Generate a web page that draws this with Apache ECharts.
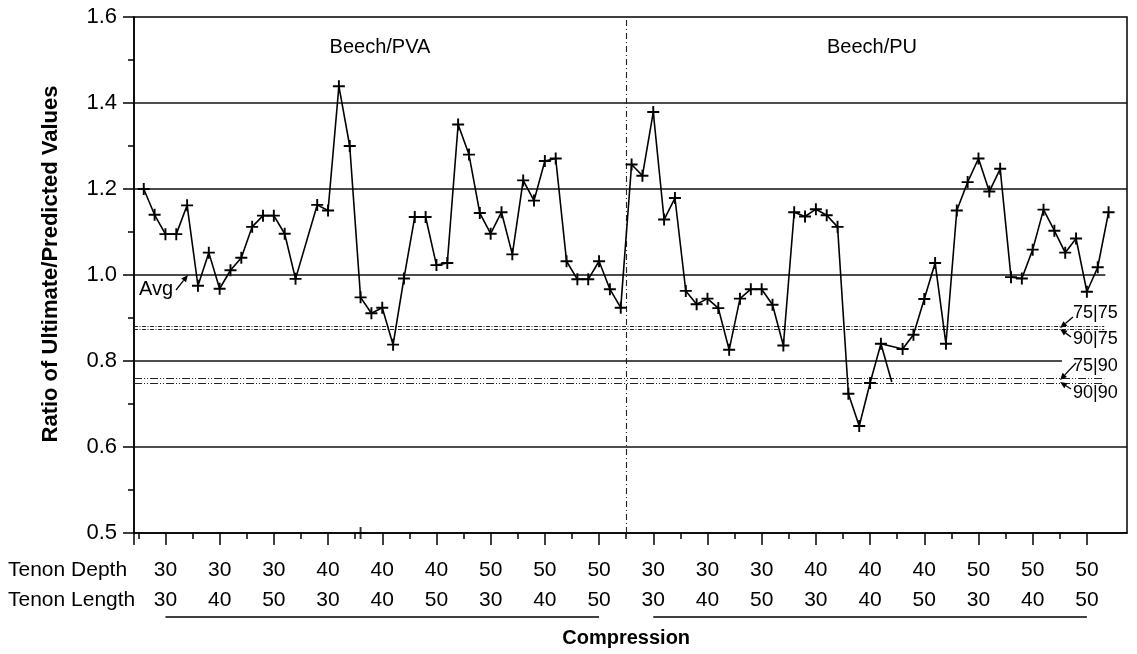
<!DOCTYPE html>
<html><head><meta charset="utf-8">
<script src="https://cdn.jsdelivr.net/npm/echarts@6/dist/echarts.min.js"></script>
<style>html,body{margin:0;padding:0;background:#fff}#c{width:1137px;height:654px}</style>
</head><body><div id="c"></div>
<script>
// ---- data ----
// Beech/PVA specimens, index 0..44 (null = no point)
const pvaValues = [1.200,1.140,1.095,1.095,1.162,0.975,1.052,0.968,1.011,1.040,
                   1.112,1.138,1.138,1.096,0.991,null,1.163,1.150,1.439,1.300,
                   0.948,0.911,0.924,0.838,0.992,1.135,1.135,1.023,1.028,1.350,
                   1.280,1.144,1.096,1.146,1.048,1.220,1.173,1.265,1.271,1.032,
                   0.990,0.990,1.032,0.967,0.924];
// Beech/PU specimens, index 45..89
const puValues = [1.257,1.231,1.379,1.129,1.179,0.963,0.932,0.945,0.923,0.826,
                  0.945,0.967,0.967,0.931,0.836,1.146,1.136,1.153,1.139,1.112,
                  0.724,0.649,0.749,0.840,null,0.828,0.861,0.944,1.028,0.840,
                  1.150,1.216,1.271,1.194,1.247,0.995,0.992,1.059,1.152,1.103,
                  1.052,1.085,0.961,1.018,1.146];
const branchStart = 68;               // short side segment in the PU trace
const branchValues = [0.840, 0.751];
const strayIndex = 20;                // stray marker sitting on the x axis
const strayValues = [0.4];
const depthLabels  = ['30','30','30','40','40','40','50','50','50','30','30','30','40','40','40','50','50','50'];
const lengthLabels = ['30','40','50','30','40','50','30','40','50','30','40','50','30','40','50','30','40','50'];
const groupSize = 5;
const yTickValues = [0.4,0.6,0.8,1.0,1.2,1.4,1.6];
const yTickLabels = ['0.5','0.6','0.8','1.0','1.2','1.4','1.6'];
const gridLevels = [1.4,1.2,0.6];
const avgLevel = 1.0;
const solidLevel = 0.8;
const refLevels = [0.880,0.873,0.759,0.749];
const refLabels = ['75|75','90|75','75|90','90|90'];
const panelTitles = ['Beech/PVA','Beech/PU'];
const yTitle = 'Ratio of Ultimate/Predicted Values';
const xTitle = 'Compression';
const rowTitles = ['Tenon Depth','Tenon Length'];

// ---- derived ----
const allValues = pvaValues.concat(puValues);
const lineData = allValues.map((v,i)=> v==null ? null : [i,v]).filter(Boolean);
const branchData = branchValues.map((v,i)=>[branchStart+i, v]);
const strayData = strayValues.map(v=>[strayIndex, v]);
const majorPos = depthLabels.map((_,g)=> 2 + groupSize*g);
const minorPos = []; for (let g=-1; g<depthLabels.length-1; g++) minorPos.push(4.5 + groupSize*g);
const divider = pvaValues.length - 0.5;
const XMIN = -0.9, XMAX = 90.7;
const FONT = 'Liberation Sans, Arial, sans-serif';
const crossPath = 'path://M4.2,0H5.8V4.2H10V5.8H5.8V10H4.2V5.8H0V4.2H4.2Z';
const black = '#000';

function hl(v, x2, style){ return [{coord:[XMIN, v], lineStyle: style},{coord:[x2, v]}]; }
const solid = {color:'#111', width:1.6, type:'solid'};
const dotStyleA = {color:'#222', width:1.2, type:[4,1.5,1,1.5]};
const dotStyleB = {color:'#222', width:1.2, type:[8,2,1,2,1,2]};

const chart = echarts.init(document.getElementById('c'), null, {renderer:'canvas'});
const option = {
  animation:false,
  backgroundColor:'#fff',
  grid:{left:134, right:10, top:17, bottom:121, show:true, borderColor:black, borderWidth:1.5, backgroundColor:'transparent'},
  xAxis:[
    {type:'value', min:XMIN, max:XMAX, position:'bottom',
     axisLine:{show:true, onZero:false, lineStyle:{color:black, width:1.5}},
     axisTick:{show:true, customValues:[XMIN].concat(majorPos), length:12, lineStyle:{color:black, width:1.5}},
     axisLabel:{show:true, customValues:majorPos, margin:22, fontSize:21, lineHeight:30, color:black, fontFamily:FONT,
        verticalAlign:'top',
        formatter:(v)=>{const g=Math.round((v-2)/groupSize); return depthLabels[g]+'\n'+lengthLabels[g];}},
     splitLine:{show:false}},
    {type:'value', min:XMIN, max:XMAX, position:'bottom', gridIndex:0,
     axisLine:{show:false, onZero:false},
     axisTick:{show:true, customValues:minorPos, length:6, lineStyle:{color:black, width:1.5}},
     axisLabel:{show:false}, splitLine:{show:false}}
  ],
  yAxis:{type:'value', min:0.4, max:1.6, interval:0.2,
     axisLine:{show:true, onZero:false, lineStyle:{color:black, width:1.5}},
     axisTick:{show:true, length:11, lineStyle:{color:black, width:1.5}},
     minorTick:{show:true, splitNumber:2, length:6, lineStyle:{color:black, width:1.5}},
     axisLabel:{fontSize:22, margin:17, color:black, fontFamily:FONT,
        formatter:(v)=>{const i=yTickValues.findIndex(t=>Math.abs(t-v)<1e-6); return i<0?'':yTickLabels[i];}},
     splitLine:{show:false}, minorSplitLine:{show:false}},
  series:[
    {type:'line', xAxisIndex:0, data:lineData, connectNulls:true,
     symbol:crossPath, symbolSize:12, showAllSymbol:true,
     itemStyle:{color:black}, lineStyle:{color:black, width:1.6}, z:5,
     markLine:{silent:true, symbol:['none','none'], label:{show:false}, animation:false,
       data:[
         ...gridLevels.map(v=>({yAxis:v, lineStyle:solid})),
         {xAxis:divider, lineStyle:{color:'#222', width:1.1, type:[6,3,1,3]}},
         hl(avgLevel, 88.7, solid),
         hl(solidLevel, 84.7, solid),
         hl(refLevels[0], 88.6, dotStyleA),
         hl(refLevels[1], 88.6, dotStyleA),
         hl(refLevels[2], 88.6, dotStyleB),
         hl(refLevels[3], 88.6, dotStyleB)
       ]}},
    {type:'line', xAxisIndex:0, data:branchData, symbol:'none', lineStyle:{color:black, width:1.6}, z:5},
    {type:'scatter', xAxisIndex:0, data:strayData, symbol:crossPath, symbolSize:12, itemStyle:{color:black}, z:5, clip:false}
  ]
};
chart.setOption(option);

const P = (x,y)=> chart.convertToPixel({xAxisIndex:0, yAxisIndex:0}, [x,y]);
function txt(x,y,text,size,opts){
  opts = opts||{};
  return {type:'text', x:x, y:y, rotation:opts.rotation||0, z:20,
    style:{text:text, fontSize:size, fontFamily:FONT, fontWeight:opts.bold?'bold':'normal', fill:black,
      align:opts.align||'center', verticalAlign:'middle'}};
}
function arrow(x1,y1,x2,y2){
  const a=Math.atan2(y2-y1,x2-x1), L=7, W=3;
  const bx=x2-L*Math.cos(a), by=y2-L*Math.sin(a);
  const px=-Math.sin(a)*W, py=Math.cos(a)*W;
  return [
    {type:'line', z:20, shape:{x1:x1,y1:y1,x2:bx,y2:by}, style:{stroke:black, lineWidth:1.3}},
    {type:'polygon', z:20, shape:{points:[[x2,y2],[bx+px,by+py],[bx-px,by-py]]}, style:{fill:black}}
  ];
}
const g = [];
// underlines below the label rows
const uy = 617;
const nHalf = depthLabels.length/2;
[[0,nHalf-1],[nHalf,depthLabels.length-1]].forEach(([a,b])=>{
  const xa=P(majorPos[a],1)[0], xb=P(majorPos[b],1)[0];
  g.push({type:'line', shape:{x1:xa,y1:uy,x2:xb,y2:uy}, style:{stroke:black, lineWidth:1.5}});
});
g.push(txt(8,570,rowTitles[0],21,{align:'left'}));
g.push(txt(8,600,rowTitles[1],21,{align:'left'}));
g.push(txt(P(divider,1)[0],638,xTitle,20,{bold:true}));
g.push(txt(51,264,yTitle,22,{bold:true, rotation:Math.PI/2}));
g.push(txt(380,47,panelTitles[0],20));
g.push(txt(872,47,panelTitles[1],20));
g.push(txt(156,289,'Avg',20));
g.push(...arrow(176,290,188,275));
const labelY = [313,339,366,393];
refLabels.forEach((t,i)=> g.push(txt(1073,labelY[i],t,18,{align:'left'})));
g.push(...arrow(1073,317,1060,328));
g.push(...arrow(1071,337,1060,329));
g.push(...arrow(1076,363,1060,380));
g.push(...arrow(1071,389,1060,382));
chart.setOption({graphic:g});
</script></body></html>
